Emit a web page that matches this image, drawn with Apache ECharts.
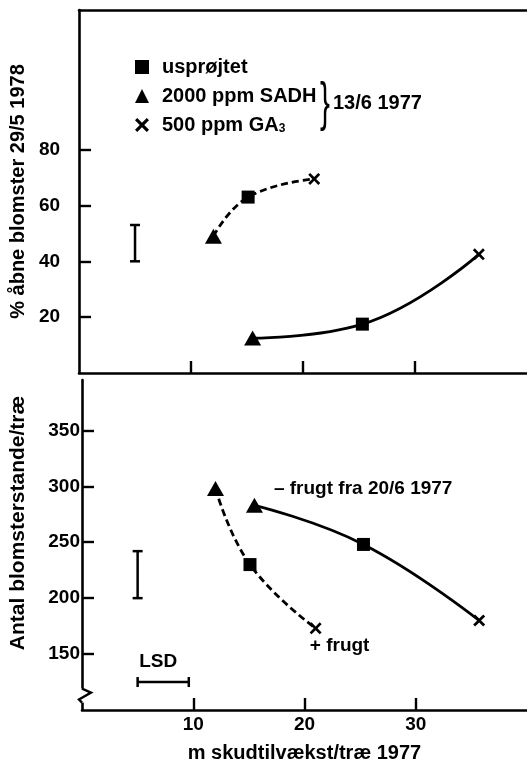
<!DOCTYPE html>
<html>
<head>
<meta charset="utf-8">
<script src="https://cdn.jsdelivr.net/npm/echarts@6/dist/echarts.min.js"></script>
<style>html,body{margin:0;padding:0;background:#fff}#chart{width:527px;height:766px}</style>
</head>
<body>
<div id="chart"></div>
<script>
// treatments (legend order)
const treatments = ['usprøjtet', '2000 ppm SADH', '500 ppm GA3']
// m shoot growth per tree 1977, same order as treatments
const plusGrowth = [15.1, 12.0, 21.0]   // + frugt (dashed)
const minusGrowth = [25.3, 15.5, 35.7]  // - frugt fra 20/6 1977 (solid)
// % open flowers 29/5 1978
const plusOpen = [63, 49, 69.5]
const minusOpen = [17.5, 12.5, 42.5]
// inflorescences per tree
const plusInfl = [230, 298, 173]
const minusInfl = [248, 283, 180]
// LSD bars: [x, low, high] and [x1, x2, y]
const lsdOpen = [5, 40, 53]
const lsdInfl = [5, 200, 242]
const lsdGrowth = [5, 9.6, 125]
// tick labels
const xTicks = [10, 20, 30]
const openTicks = [20, 40, 60, 80]
const inflTicks = [150, 200, 250, 300, 350]

const FONT = 'Liberation Sans, Arial, sans-serif'
const cross = 'path://M0,1.6L1.6,0L5,3.4L8.4,0L10,1.6L6.6,5L10,8.4L8.4,10L5,6.6L1.6,10L0,8.4L3.4,5Z'
const symbols = ['rect', 'triangle', cross]
const symbolSizes = [13, [17, 15], 12]

const chart = echarts.init(document.getElementById('chart'))

function pts (xs, ys) {
  return xs.map((x, i) => [x, ys[i]]).sort((a, b) => a[0] - b[0])
}

function curve (xs, ys, dashed, xi, yi) {
  return {
    type: 'line',
    xAxisIndex: xi,
    yAxisIndex: yi,
    data: pts(xs, ys),
    smooth: 0.45,
    symbol: 'none',
    silent: true,
    z: 2,
    lineStyle: { color: '#000', width: 2.8, type: dashed ? [7, 4] : 'solid' }
  }
}

function markers (xi, yi, ysPlus, ysMinus, labels) {
  return treatments.map((name, i) => ({
    type: 'scatter',
    name: name,
    xAxisIndex: xi,
    yAxisIndex: yi,
    symbol: symbols[i],
    symbolSize: symbolSizes[i],
    itemStyle: { color: '#000', opacity: 1 },
    z: 3,
    data: [
      { value: [plusGrowth[i], ysPlus[i]], label: labels && labels.plus[i] },
      { value: [minusGrowth[i], ysMinus[i]], label: labels && labels.minus[i] }
    ]
  }))
}

const labelText = { show: true, color: '#000', fontSize: 19, fontWeight: 'bold', fontFamily: FONT }
const bottomLabels = {
  plus: [null, null, Object.assign({ formatter: '+ frugt', position: 'bottom', offset: [24, -3] }, labelText)],
  minus: [null, Object.assign({ formatter: '– frugt fra 20/6 1977', position: 'right', offset: [6, -17] }, labelText), null]
}

function vBar (params, api) {
  const lo = api.coord([api.value(0), api.value(1)])
  const hi = api.coord([api.value(0), api.value(2)])
  const c = 5
  const st = { stroke: '#000', lineWidth: 2.5 }
  return {
    type: 'group',
    children: [
      { type: 'line', shape: { x1: lo[0], y1: lo[1], x2: hi[0], y2: hi[1] }, style: st },
      { type: 'line', shape: { x1: lo[0] - c, y1: lo[1], x2: lo[0] + c, y2: lo[1] }, style: st },
      { type: 'line', shape: { x1: hi[0] - c, y1: hi[1], x2: hi[0] + c, y2: hi[1] }, style: st }
    ]
  }
}

function hBar (params, api) {
  const a = api.coord([api.value(0), api.value(2)])
  const b = api.coord([api.value(1), api.value(2)])
  const c = 5
  const st = { stroke: '#000', lineWidth: 2.5 }
  return {
    type: 'group',
    children: [
      { type: 'line', shape: { x1: a[0], y1: a[1], x2: b[0], y2: b[1] }, style: st },
      { type: 'line', shape: { x1: a[0], y1: a[1] - c, x2: a[0], y2: a[1] + c }, style: st },
      { type: 'line', shape: { x1: b[0], y1: b[1] - c, x2: b[0], y2: b[1] + c }, style: st },
      { type: 'text', x: (a[0] + b[0]) / 2 - 5, y: a[1] - 20, style: { text: 'LSD', fill: '#000', font: 'bold 19px ' + FONT, align: 'center', verticalAlign: 'middle' } }
    ]
  }
}

const axisLine = { lineStyle: { color: '#000', width: 2.6 } }
const tick = { inside: true, length: 12, lineStyle: { color: '#000', width: 2.4 } }
const tickLabel = { color: '#000', fontSize: 19, fontWeight: 'bold', fontFamily: FONT }
const titleStyle = { color: '#000', fontSize: 20, fontWeight: 'bold', fontFamily: FONT }

const option = {
  backgroundColor: '#fff',
  animation: false,
  textStyle: { fontFamily: FONT },
  grid: [
    { left: 79, right: 0, top: 10, height: 363 },
    { left: 79, right: 0, top: 380, height: 330 }
  ],
  legend: {
    data: treatments,
    selectedMode: false,
    orient: 'vertical',
    left: 130,
    top: 52,
    itemWidth: 14,
    itemHeight: 14,
    itemGap: 9,
    textStyle: {
      color: '#000', fontSize: 20, fontWeight: 'bold', lineHeight: 20, padding: [0, 0, 0, 8],
      rich: { sub: { fontSize: 12, fontWeight: 'bold', verticalAlign: 'bottom', padding: [6, 0, 0, 0] } }
    },
    formatter: name => name.replace('GA3', 'GA{sub|3}')
  },
  xAxis: [
    {
      gridIndex: 0, type: 'value', min: 0, max: 40,
      axisLine: axisLine, splitLine: { show: false },
      axisTick: Object.assign({ customValues: xTicks }, tick),
      axisLabel: { show: false }
    },
    {
      gridIndex: 0, type: 'value', min: 0, max: 40, position: 'top',
      axisLine: axisLine, splitLine: { show: false },
      axisTick: { show: false }, axisLabel: { show: false }
    },
    {
      gridIndex: 1, type: 'value', min: 0, max: 40,
      axisLine: axisLine, splitLine: { show: false },
      axisTick: Object.assign({ customValues: xTicks }, tick),
      axisLabel: Object.assign({ customValues: xTicks, margin: 5 }, tickLabel),
      name: 'm skudtilvækst/træ 1977',
      nameLocation: 'middle',
      nameGap: 33,
      nameTextStyle: titleStyle
    }
  ],
  yAxis: [
    {
      gridIndex: 0, type: 'value', min: 0, max: 130,
      axisLine: axisLine, splitLine: { show: false },
      axisTick: Object.assign({ customValues: openTicks }, tick),
      axisLabel: Object.assign({ customValues: openTicks, margin: 19 }, tickLabel),
      name: '% åbne blomster 29/5 1978',
      nameLocation: 'middle',
      nameRotate: 90,
      nameGap: 47,
      nameTextStyle: titleStyle
    },
    {
      gridIndex: 1, type: 'value', min: 100, max: 395,
      axisLine: axisLine, splitLine: { show: false },
      axisTick: Object.assign({ customValues: inflTicks }, tick),
      axisLabel: Object.assign({ customValues: inflTicks, margin: 2 }, tickLabel),
      name: 'Antal blomsterstande/træ',
      nameLocation: 'middle',
      nameRotate: 90,
      nameGap: 53,
      nameTextStyle: Object.assign({ padding: [0, 0, 0, 44] }, titleStyle, { fontSize: 21 })
    }
  ],
  series: [
    curve(plusGrowth, plusOpen, true, 0, 0),
    curve(minusGrowth, minusOpen, false, 0, 0),
    curve(plusGrowth, plusInfl, true, 2, 1),
    curve(minusGrowth, minusInfl, false, 2, 1),
    ...markers(0, 0, plusOpen, minusOpen, null),
    ...markers(2, 1, plusInfl, minusInfl, bottomLabels),
    { type: 'custom', xAxisIndex: 0, yAxisIndex: 0, renderItem: vBar, data: [lsdOpen], silent: true, clip: false },
    { type: 'custom', xAxisIndex: 2, yAxisIndex: 1, renderItem: vBar, data: [lsdInfl], silent: true, clip: false },
    { type: 'custom', xAxisIndex: 2, yAxisIndex: 1, renderItem: hBar, data: [lsdGrowth], silent: true, clip: false }
  ]
}

chart.setOption(option)

// brace + date for the spraying treatments, axis break mark on lower y axis
const brk = chart.convertToPixel({ xAxisIndex: 2, yAxisIndex: 1 }, [0, 112])
chart.setOption({
  graphic: [
    { type: 'text', x: 320, y: 105, scaleX: 0.55, style: { text: '}', font: 'normal 54px ' + FONT, fill: '#000', verticalAlign: 'middle' } },
    { type: 'text', x: 333, y: 103, style: { text: '13/6 1977', font: 'bold 20px ' + FONT, fill: '#000', verticalAlign: 'middle' } },
    { type: 'rect', shape: { x: brk[0] - 3, y: brk[1] - 8, width: 6, height: 14 }, style: { fill: '#fff' }, z: 100 },
    {
      type: 'polyline',
      shape: { points: [[brk[0], brk[1] - 8], [brk[0] + 9, brk[1] - 4], [brk[0] - 3, brk[1] + 3], [brk[0], brk[1] + 6]] },
      style: { stroke: '#000', lineWidth: 2.4, fill: null },
      z: 101
    }
  ]
})
</script>
</body>
</html>
